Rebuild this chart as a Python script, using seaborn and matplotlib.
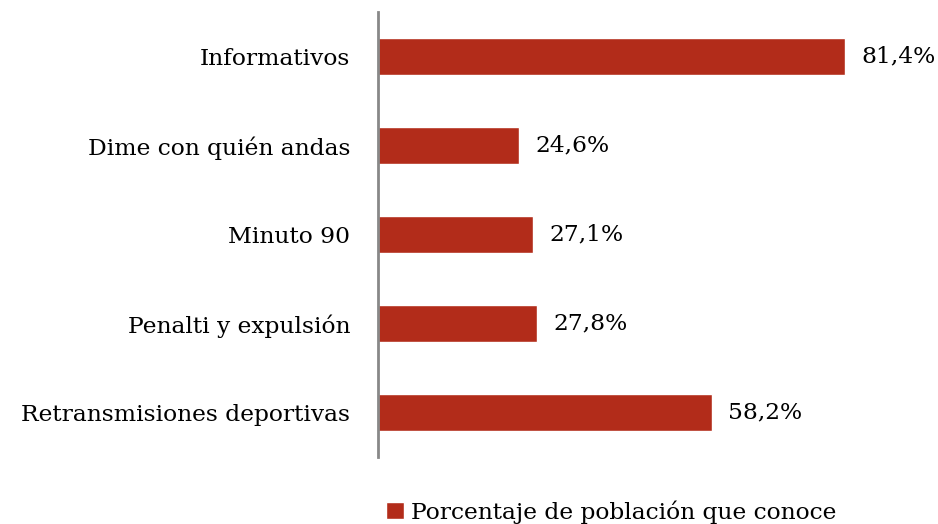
import pandas as pd
import matplotlib.pyplot as plt
import seaborn as sns
from matplotlib.patches import Patch

# Datos
programas = ['Informativos', 'Dime con quién andas', 'Minuto 90',
             'Penalti y expulsión', 'Retransmisiones deportivas']
porcentajes = [81.4, 24.6, 27.1, 27.8, 58.2]
etiquetas = ['81,4%', '24,6%', '27,1%', '27,8%', '58,2%']
serie = 'Porcentaje de población que conoce'

df = pd.DataFrame({'programa': programas, 'valor': porcentajes})

sns.set_style('white')
plt.rcParams['font.family'] = ['DejaVu Serif']
plt.rcParams['text.color'] = 'black'
plt.rcParams['ytick.color'] = 'black'

rojo = '#B22C1A'
fs = 16.8

fig = plt.figure(figsize=(9.38, 5.24), dpi=100)
ax = fig.add_axes([378 / 938, 1 - 457 / 524, (923 - 378) / 938, 445 / 524])

sns.barplot(data=df, x='valor', y='programa', color=rojo, width=0.41,
            saturation=1, ax=ax)

ax.set_xlim(0, 95)
ax.set_ylim(4.5, -0.5)
ax.set_xlabel('')
ax.set_ylabel('')
ax.set_xticks([])
ax.tick_params(axis='y', length=0, pad=20, labelsize=fs, labelcolor='black')

for s in ['top', 'right', 'bottom']:
    ax.spines[s].set_visible(False)
ax.spines['left'].set_color('#888888')
ax.spines['left'].set_linewidth(2)

for i, (v, t) in enumerate(zip(porcentajes, etiquetas)):
    ax.text(v + 2.8, i, t, va='center', ha='left', fontsize=fs, color='black')

fig.legend(handles=[Patch(facecolor=rojo, label=serie)],
           loc='center', bbox_to_anchor=(611 / 938, 1 - 512 / 524),
           frameon=False, fontsize=fs, handlelength=0.75, handleheight=0.75,
           handletextpad=0.3, labelcolor='black')

fig.savefig('out.png', dpi=100)
